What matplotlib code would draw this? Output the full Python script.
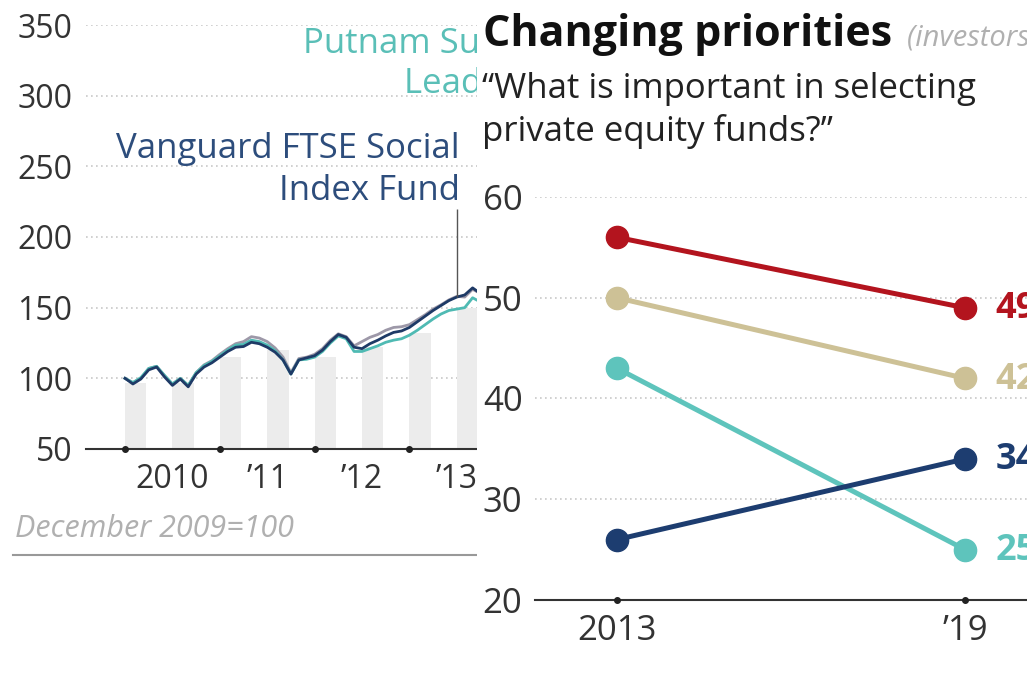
import numpy as np
import matplotlib.pyplot as plt
from matplotlib.patches import Rectangle

plt.rcParams['font.family'] = ['Open Sans', 'DejaVu Sans']

W, H = 1027, 674

# left chart: fund indices, monthly, December 2009 = 100
months = np.arange(46)
vanguard = [100, 96, 99.5, 106, 108, 101, 95, 99.5, 94, 103, 108, 111,
            115, 119, 122, 122.5, 125.5, 124.5, 122, 118.5, 113, 103, 113, 114.5,
            116, 120, 126, 131, 129, 122, 121, 124.5, 127, 130, 132.5, 133.5,
            136, 140, 144, 148, 151.5, 155, 157.5, 159, 164, 160]
putnam = [100, 97, 100.5, 107, 108.5, 102, 96, 100, 95, 104, 109, 112,
          116, 120, 123.5, 124, 127, 126, 123.5, 119.5, 113, 103, 113, 113.5,
          115, 119, 125, 130, 128, 119, 119, 121, 123, 125.5, 127, 128,
          130.5, 134, 138, 142, 145.5, 148, 149, 150, 157, 154]
benchmark = [100, 97, 100, 107, 108.5, 102, 96, 100, 95, 104, 109.5, 112.5,
             117, 121, 124.5, 126, 129.5, 128.5, 126, 121.5, 115, 104, 114, 115,
             117, 121, 127, 131.5, 129.5, 123, 126, 129, 131, 134, 136, 136.5,
             138, 141.5, 145, 149, 152, 155.5, 158, 157.5, 163, 160]
year_starts = [0, 12, 24, 36]
year_mids = [6, 18, 30, 42]
year_labels = ['2010', '’11', '’12', '’13']
band_starts = [0, 6, 12, 18, 24, 30, 36, 42]
band_tops = [97, 97, 115, 120, 115, 122, 132, 150]

# right chart: survey shares, %
survey_years = ['2013', '’19']
share_2013 = [56, 50, 43, 26]
share_2019 = [49, 42, 25, 34]
share_colors = ['#b3141e', '#cdc196', '#5ec4bc', '#1d3d70']


def box(l, t, r, b):
    return [l / W, 1 - b / H, (r - l) / W, (b - t) / H]


def fx(x):
    return x / W


def fy(y):
    return 1 - y / H


fig = plt.figure(figsize=(W / 100, H / 100), dpi=100)
dots = (0, (1, 2))

# ---- left chart
ax = fig.add_axes(box(86, 25, 500, 449), zorder=1)
ax.set_xlim(-4.94, 47.47)
ax.set_ylim(50, 350)
for s in ['top', 'left', 'right']:
    ax.spines[s].set_visible(False)
ax.spines['bottom'].set_color('#333333')
ax.spines['bottom'].set_linewidth(1.5)
ax.set_yticks(range(50, 351, 50))
ax.tick_params(axis='y', length=0, pad=10, labelsize=23, labelcolor='#333333')
ax.set_xticks(year_mids, labels=year_labels)
ax.tick_params(axis='x', length=0, pad=10, labelsize=23, labelcolor='#333333')
ax.yaxis.grid(True, color='#c8c8c8', linestyle=dots, linewidth=1.2)
ax.set_axisbelow(True)

ax.bar(band_starts, np.array(band_tops) - 50, bottom=50, width=2.7, align='edge',
       color='#ececec', zorder=1)
ax.plot(months, benchmark, color='#9d98a8', lw=2, zorder=3)
ax.plot(months, putnam, color='#4fbab3', lw=2, zorder=4)
ax.plot(months, vanguard, color='#1e3a66', lw=2, zorder=5)
ax.plot(year_starts, [50] * len(year_starts), 'o', ms=4, color='#222222',
        clip_on=False, zorder=6)
ax.vlines(42, vanguard[42], 220, color='#555555', lw=1, zorder=6)

ax.text(fx(460), fy(158), 'Vanguard FTSE Social', transform=fig.transFigure,
        ha='right', va='baseline', fontsize=25, color='#2d4d7c')
ax.text(fx(460), fy(200), 'Index Fund', transform=fig.transFigure,
        ha='right', va='baseline', fontsize=25, color='#2d4d7c')
ax.text(fx(303), fy(53), 'Putnam Sustainable', transform=fig.transFigure,
        ha='left', va='baseline', fontsize=25, color='#5abfb7')
ax.text(fx(404), fy(93), 'Leaders Fund', transform=fig.transFigure,
        ha='left', va='baseline', fontsize=25, color='#5abfb7')
ax.text(fx(15), fy(537), 'December 2009=100', transform=fig.transFigure,
        ha='left', va='baseline', fontsize=22, color='#b0b0b0', style='italic')
ax.plot([fx(13), fx(490)], [fy(555), fy(555)], transform=fig.transFigure,
        color='#999999', lw=1.5, clip_on=False)

# ---- white panel behind the right chart
panel = fig.add_axes(box(477, 0, W, H), zorder=2)
panel.set_xticks([])
panel.set_yticks([])
for s in panel.spines.values():
    s.set_visible(False)
panel.add_patch(Rectangle((0, 0), 1, 1, transform=panel.transAxes,
                          facecolor='white', edgecolor='none'))
panel.text(fx(483), fy(46), 'Changing priorities', transform=fig.transFigure,
           ha='left', va='baseline', fontsize=31, fontweight='bold', color='#111111')
panel.text(fx(907), fy(46), '(investors, %)', transform=fig.transFigure,
           ha='left', va='baseline', fontsize=21, style='italic', color='#b0b0b0')
panel.text(fx(482), fy(98), '“What is important in selecting', transform=fig.transFigure,
           ha='left', va='baseline', fontsize=25, color='#222222')
panel.text(fx(482), fy(141), 'private equity funds?”', transform=fig.transFigure,
           ha='left', va='baseline', fontsize=25, color='#222222')

# ---- right chart
ax2 = fig.add_axes(box(535, 197, W, 600), zorder=3)
ax2.set_facecolor('none')
ax2.set_xlim(-0.2356, 1.178)
ax2.set_ylim(20, 60)
for s in ['top', 'left', 'right']:
    ax2.spines[s].set_visible(False)
ax2.spines['bottom'].set_color('#333333')
ax2.spines['bottom'].set_linewidth(1.5)
ax2.set_yticks(range(20, 61, 10))
ax2.tick_params(axis='y', length=0, pad=9, labelsize=25, labelcolor='#333333')
ax2.set_xticks([0, 1], labels=survey_years)
ax2.tick_params(axis='x', length=0, pad=10, labelsize=25, labelcolor='#333333')
ax2.yaxis.grid(True, color='#c8c8c8', linestyle=dots, linewidth=1.2)
ax2.set_axisbelow(True)

for a, b, c in zip(share_2013, share_2019, share_colors):
    ax2.plot([0, 1], [a, b], color=c, lw=3.6, marker='o', ms=16, clip_on=False, zorder=4)
    ax2.annotate(str(b), (1, b), xytext=(22, -1), textcoords='offset points',
                 ha='left', va='center', fontsize=26, fontweight='bold', color=c,
                 annotation_clip=False)
ax2.plot([0, 1], [20, 20], 'o', ms=4, color='#222222', clip_on=False, zorder=5)

fig.savefig('out.png', dpi=100)
